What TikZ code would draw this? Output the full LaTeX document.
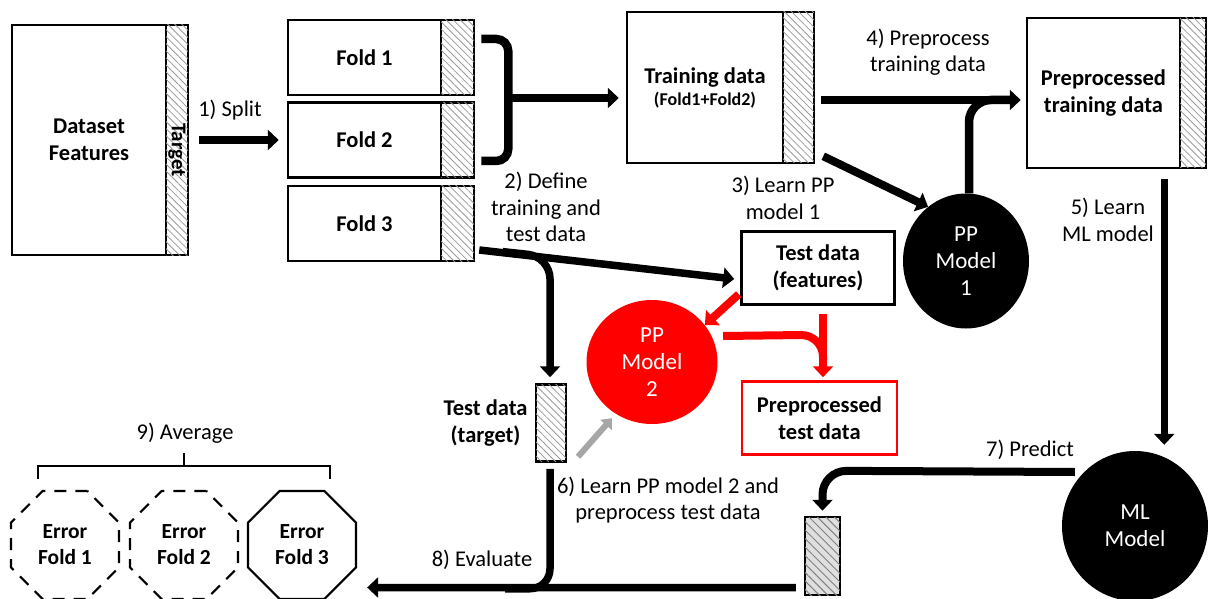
\documentclass[tikz,border=0pt]{standalone}
\usepackage{fontspec}
\setmainfont{Carlito}
\usetikzlibrary{arrows.meta,patterns.meta,shapes.geometric,calc}
\begin{document}
\begin{tikzpicture}[x=1pt,y=-1pt,
  box/.style={draw, line width=2.5pt, fill=white, inner sep=0pt, align=center,
    font=\bfseries\fontsize{22.5}{27}\selectfont},
  hatch/.style={draw, line width=2.5pt, inner sep=0pt, fill=white,
    postaction={pattern={Lines[angle=-45,distance=5pt,line width=0.8pt]}, pattern color=gray!80}},
  darkhatch/.style={draw, line width=2.5pt, inner sep=0pt, fill=gray!25,
    postaction={pattern={Lines[angle=-45,distance=6pt,line width=1pt]}, pattern color=gray}},
  lbl/.style={align=center, font=\fontsize{22.5}{26.5}\selectfont},
  blob/.style={ellipse, inner sep=0pt, align=center, text=white, font=\fontsize{23}{27}\selectfont},
  err/.style={regular polygon, regular polygon sides=8, minimum size=117pt, inner sep=0pt,
    draw, line width=2.2pt, align=center, font=\bfseries\fontsize{21.5}{26}\selectfont},
  tip/.style={-{Triangle[length=11pt,width=20pt]}},
  arr/.style={line width=8.5pt, tip},
  con/.style={line width=7.5pt},
]
\useasboundingbox (0,0) rectangle (1208,599);

% dataset
\node[box, minimum width=154pt, minimum height=230pt] (ds) at (89,140) {Dataset\\Features};
\node[hatch, minimum width=22pt, minimum height=230pt] (dst) at (177,140) {};
\node[rotate=-90, font=\bfseries\fontsize{21}{24}\selectfont] (dstt) at (177,150) {Target};

% folds
\node[box, minimum width=153pt, minimum height=75pt] (f1) at (364.5,57.5) {Fold 1};
\node[hatch, minimum width=33pt, minimum height=75pt] (f1s) at (457.5,57.5) {};
\node[box, minimum width=153pt, minimum height=75pt] (f2) at (364.5,140) {Fold 2};
\node[hatch, minimum width=33pt, minimum height=75pt] (f2s) at (457.5,140) {};
\node[box, minimum width=153pt, minimum height=75pt] (f3) at (364.5,223.5) {Fold 3};
\node[hatch, minimum width=33pt, minimum height=75pt] (f3s) at (457.5,223.5) {};

% training data
\node[box, minimum width=156pt, minimum height=151pt] (tr) at (705,87.5) {Training data\\[-5pt]{\fontsize{18}{22}\selectfont(Fold1+Fold2)}};
\node[hatch, minimum width=31pt, minimum height=151pt] (trs) at (798.5,87.5) {};

% preprocessed training data
\node[box, minimum width=153pt, minimum height=150pt] (pt) at (1103.5,93) {Preprocessed\\training data};
\node[hatch, minimum width=26pt, minimum height=150pt] (pts) at (1193,93) {};

% models
\node[blob, fill=black, minimum width=126pt, minimum height=135pt] (pp1) at (966,261) {PP\\Model\\1};
\node[blob, fill=black, minimum width=146pt, minimum height=150pt] (ml) at (1135,526) {ML\\Model};
\node[blob, fill=red, minimum width=131pt, minimum height=124pt] (pp2) at (652,362) {PP\\Model\\2};

% test data
\node[box, minimum width=153pt, minimum height=73pt] (tf) at (818,268) {Test data\\(features)};
\node[box, draw=red, minimum width=155pt, minimum height=73pt] (ptd) at (819.5,418) {Preprocessed\\test data};
\node[hatch, minimum width=30pt, minimum height=77pt] (tt) at (551,423) {};
\node[anchor=east, align=center, font=\bfseries\fontsize{22.5}{27}\selectfont] (ttl) at (531,423) {Test data\\(target)};
\node[darkhatch, minimum width=35pt, minimum height=78pt] (pb) at (822.5,556) {};

% errors
\node[err, dashed, dash pattern=on 12pt off 9pt] (e1) at (65,545) {Error\\Fold 1};
\node[err, dashed, dash pattern=on 12pt off 9pt] (e2) at (184,545) {Error\\Fold 2};
\node[err] (e3) at (302,545) {Error\\Fold 3};

% labels
\node[lbl] (l1) at (230,110) {1) Split};
\node[lbl] (l2) at (546,207) {2) Define\\training and\\test data};
\node[lbl] (l3) at (783,198) {3) Learn PP\\model 1};
\node[lbl] (l4) at (928,52) {4) Preprocess\\training data};
\node[lbl] (l5) at (1108,220) {5) Learn\\ML model};
\node[lbl] (l6) at (668,500) {6) Learn PP model 2 and\\preprocess test data};
\node[lbl] (l7) at (1030,450) {7) Predict};
\node[lbl] (l8) at (482,560) {8) Evaluate};
\node[lbl] (l9) at (185,433) {9) Average};

% bracket coordinates
\coordinate (b1) at ($(f1s.east)+(6,-18.5)$);
\coordinate (b2) at ($(f2s.east)+(33,21)$);
\coordinate (b3) at ($(f2s.east)+(6,21)$);
\coordinate (bm) at ($(f1s.east)+(33,40.5)$);
% other helper points
\coordinate (p4) at ($(trs.east)+(6,12.5)$);
\coordinate (q4) at ($(pp1.north)+(3,0)$);
\coordinate (m5) at ($(pt.south east)+(-17,10)$);
\coordinate (c7) at ($(pb.north)+(0,-45)$);
\coordinate (s2) at ($(f3s.east)+(4,26.5)$);
\coordinate (c2) at ($(tt.north)+(-1,-126.5)$);
\coordinate (c8) at ($(tt.south)+(-1,126)$);
\coordinate (r6) at ($(ptd.north)+(3.5,-45.5)$);

% connectors
\draw[arr] ($(dst.east)+(10,0)$) -- ($(f2.west)+(-8,0)$);
\draw[line width=8.5pt, rounded corners=12pt] (b1) -- (b1 -| b2) -- (b2) -- (b3);
\draw[arr] ($(bm)+(-4,0)$) -- (bm -| {$(tr.west)+(-7,0)$});
\draw[arr] (p4) -- ({$(pt.west)+(-5,0)$} |- p4);
\draw[line width=8.5pt, rounded corners=22pt] (q4) -- (q4 |- p4) -- ($(q4 |- p4)+(45,0)$);
\draw[line width=8pt, tip] ($(trs.south east)+(8,-8)$) -- (pp1.125);
\draw[line width=6.5pt, tip] (m5) -- ($(ml.north -| m5)+(0,-6)$);
\draw[line width=8pt, rounded corners=24pt, tip] ($(ml.west)+(13,-54)$) -- (c7) -- ($(pb.north)+(0,-5)$);
\draw[con, tip] (s2) -- ($(tf.west)+(-6,11)$);
\draw[con, rounded corners=22pt, tip] ($(s2)!0.09!(tf.west)$) -- (c2) -- ($(tt.north)+(-1,-6)$);
\draw[con, tip] ($(pb.west)+(-8,31.5)$) -- ($(e3.east)+(10,42.5)$);
\draw[con, rounded corners=20pt] ($(tt.south)+(-1,6)$) -- (c8) -- ($(c8)+(-45,0)$);
\draw[red, line width=8pt, tip] ($(tf.south west)+(-1.5,-11.5)$) -- (pp2.35);
\draw[red, line width=8pt, rounded corners=22pt] ($(pp2.east)+(5.5,-26)$) -- (r6) -- ($(ptd.north)+(3.5,-20)$);
\draw[red, line width=8pt, tip] ($(tf.south -| r6)+(0,8.5)$) -- ($(ptd.north)+(3.5,-3)$);
\draw[gray!70, line width=6pt, -{Triangle[length=9pt,width=15pt]}] ($(tt.south)+(27,-6)$) -- ($(pp2.south)+(-40,-6)$);
\coordinate (a1) at ($(e1.north)+(-27,-11)$);
\coordinate (a2) at ($(e3.north)+(28,-11)$);
\coordinate (a3) at ($(e2.north)+(0,-24)$);
\draw[line width=2.5pt] (a1) -- ($(a1)+(0,-13)$) -- ($(a2)+(0,-13)$) -- (a2);
\draw[line width=2.5pt] (a3) -- ($(a3)+(0,-13)$);
\end{tikzpicture}
\end{document}
